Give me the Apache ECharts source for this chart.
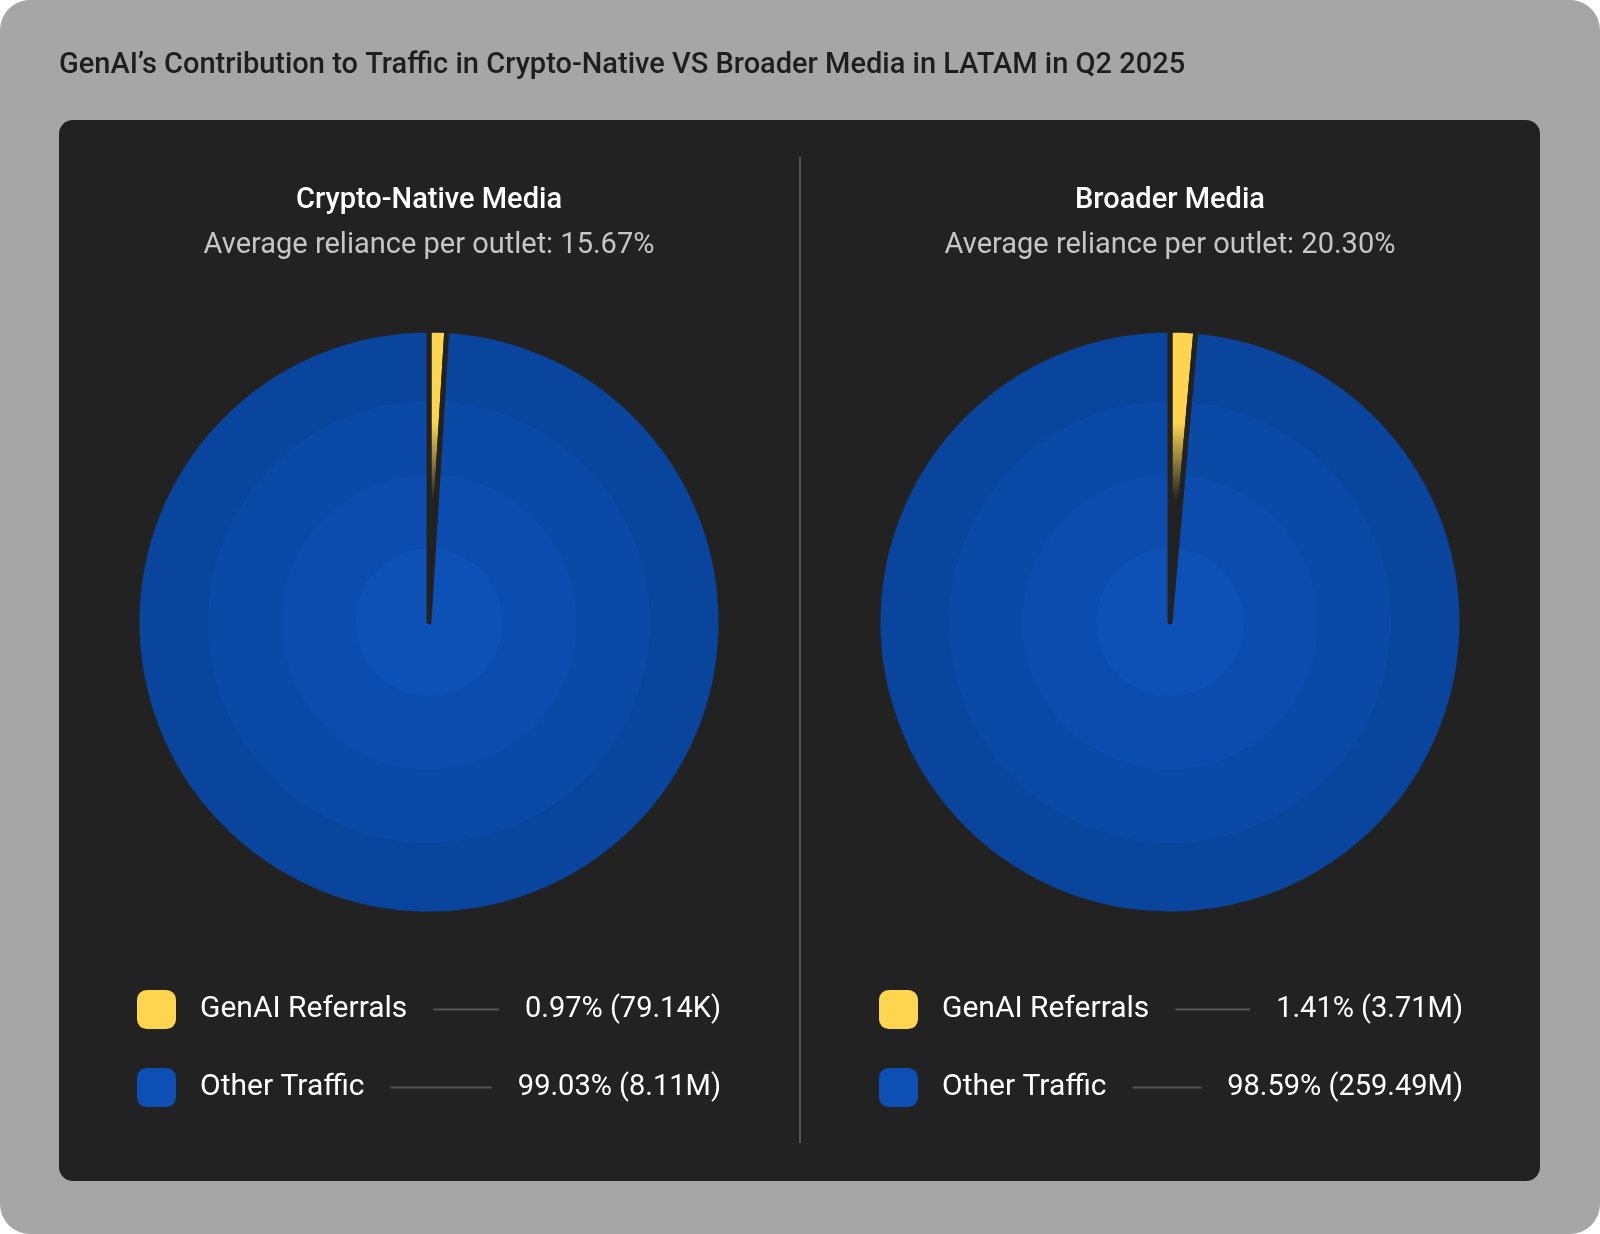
<!DOCTYPE html>
<html lang="en">
<head>
  <meta charset="UTF-8">
  <title>GenAI contribution to traffic</title>
  <script src="https://cdn.jsdelivr.net/npm/echarts@6/dist/echarts.min.js"></script>
  <style>
    body { margin: 0; background: #fff; }
    #main { width: 1600px; height: 1234px; }
  </style>
</head>
<body>
<div id="main"></div>
<script>
  // data
  var sliceNames = ['GenAI Referrals', 'Other Traffic'];
  var panelNames = ['Crypto-Native Media', 'Broader Media'];
  var avgReliance = [15.67, 20.30];
  var cryptoShare = [0.97, 99.03];
  var cryptoCount = ['79.14K', '8.11M'];
  var broaderShare = [1.41, 98.59];
  var broaderCount = ['3.71M', '259.49M'];

  var FONT = 'Roboto';
  var yellow = '#ffd54f';
  var blue = '#0d4fb4';
  var pieX = [429, 1170];
  var legendX = [132, 874];

  var ctx = document.createElement('canvas').getContext('2d');
  function textW(str, size, weight) {
    ctx.font = (weight || 'normal') + ' ' + size + 'px ' + FONT;
    return ctx.measureText(str).width;
  }

  // big slice: four flat rings, a bit lighter toward the middle
  var ringFill = {
    type: 'radial', x: 0.5, y: 0.5, r: 0.5,
    colorStops: [
      { offset: 0, color: '#0d51b7' }, { offset: 0.25, color: '#0d51b7' },
      { offset: 0.25, color: '#0c4cae' }, { offset: 0.5, color: '#0c4cae' },
      { offset: 0.5, color: '#0b49a6' }, { offset: 0.75, color: '#0b49a6' },
      { offset: 0.75, color: '#0a459d' }, { offset: 1, color: '#0a459d' }
    ]
  };
  // thin slice fades out toward the centre
  var fadeFill = {
    type: 'linear', x: 0, y: 0, x2: 0, y2: 1,
    colorStops: [
      { offset: 0, color: yellow }, { offset: 0.32, color: yellow },
      { offset: 0.58, color: 'rgba(255,213,79,0)' }, { offset: 1, color: 'rgba(255,213,79,0)' }
    ]
  };

  function makeSeries(idx, shares) {
    return {
      type: 'pie',
      name: panelNames[idx],
      center: [pieX[idx], 622],
      radius: [0, 292],
      startAngle: 90,
      clockwise: true,
      label: { show: false },
      labelLine: { show: false },
      emphasis: { disabled: true },
      itemStyle: { borderColor: '#222222', borderWidth: 5 },
      data: sliceNames.map(function (n, i) {
        return { name: n, value: shares[i], itemStyle: { color: i === 0 ? fadeFill : ringFill } };
      })
    };
  }

  function makeLegend(idx, shares, counts) {
    var size = 30, vSize = 29;
    var vals = shares.map(function (s, i) { return s.toFixed(2) + '% (' + counts[i] + ')'; });
    var rich = {
      n: { fontSize: size, fontFamily: FONT, color: '#ffffff', lineHeight: 39, padding: [0, 26, 0, 19] },
      v: { fontSize: vSize, fontFamily: FONT, color: '#ffffff', lineHeight: 39, padding: [0, 0, 0, 26] }
    };
    sliceNames.forEach(function (n, i) {
      var w = 469 - textW(n, size) - textW(vals[i], vSize);
      rich['l' + i] = { width: Math.max(w, 10), height: 2, backgroundColor: '#555555' };
    });
    return {
      orient: 'vertical',
      left: legendX[idx],
      top: 985,
      itemWidth: 39,
      itemHeight: 39,
      itemGap: 39,
      icon: 'roundRect',
      selectedMode: false,
      data: sliceNames.map(function (n, i) {
        return { name: n, itemStyle: { color: i === 0 ? yellow : blue, borderWidth: 0 } };
      }),
      formatter: function (name) {
        var i = sliceNames.indexOf(name);
        return '{n|' + name + '}{l' + i + '| }{v|' + vals[i] + '}';
      },
      textStyle: { rich: rich }
    };
  }

  var graphics = [
    { type: 'rect', z: -10, shape: { x: 0, y: 0, width: 1600, height: 1234, r: 30 }, style: { fill: '#a6a6a6' } },
    { type: 'rect', z: -9, shape: { x: 59, y: 120, width: 1481, height: 1061, r: 14 }, style: { fill: '#222222' } },
    { type: 'line', z: -8, shape: { x1: 800, y1: 157, x2: 800, y2: 1143 }, style: { stroke: '#555555', lineWidth: 2 } },
    {
      type: 'text', x: 59, y: 66,
      style: {
        text: 'GenAI\u2019s Contribution to Traffic in Crypto-Native VS Broader Media in LATAM in Q2 2025',
        fill: '#1e1e1e', font: '500 29px ' + FONT, align: 'left', verticalAlign: 'middle',
        textAlign: 'left', textVerticalAlign: 'middle'
      }
    }
  ];
  panelNames.forEach(function (p, i) {
    graphics.push({
      type: 'text', x: pieX[i], y: 201,
      style: { text: p, fill: '#ffffff', font: '500 29px ' + FONT, align: 'center', verticalAlign: 'middle', textAlign: 'center', textVerticalAlign: 'middle' }
    });
    graphics.push({
      type: 'text', x: pieX[i], y: 246,
      style: { text: 'Average reliance per outlet: ' + avgReliance[i].toFixed(2) + '%', fill: '#c6c6c6', font: '29px ' + FONT, align: 'center', verticalAlign: 'middle', textAlign: 'center', textVerticalAlign: 'middle' }
    });
  });

  var chart = echarts.init(document.getElementById('main'));
  chart.setOption({
    animation: false,
    graphic: { elements: graphics },
    legend: [makeLegend(0, cryptoShare, cryptoCount), makeLegend(1, broaderShare, broaderCount)],
    series: [makeSeries(0, cryptoShare), makeSeries(1, broaderShare)]
  });
</script>
</body>
</html>
